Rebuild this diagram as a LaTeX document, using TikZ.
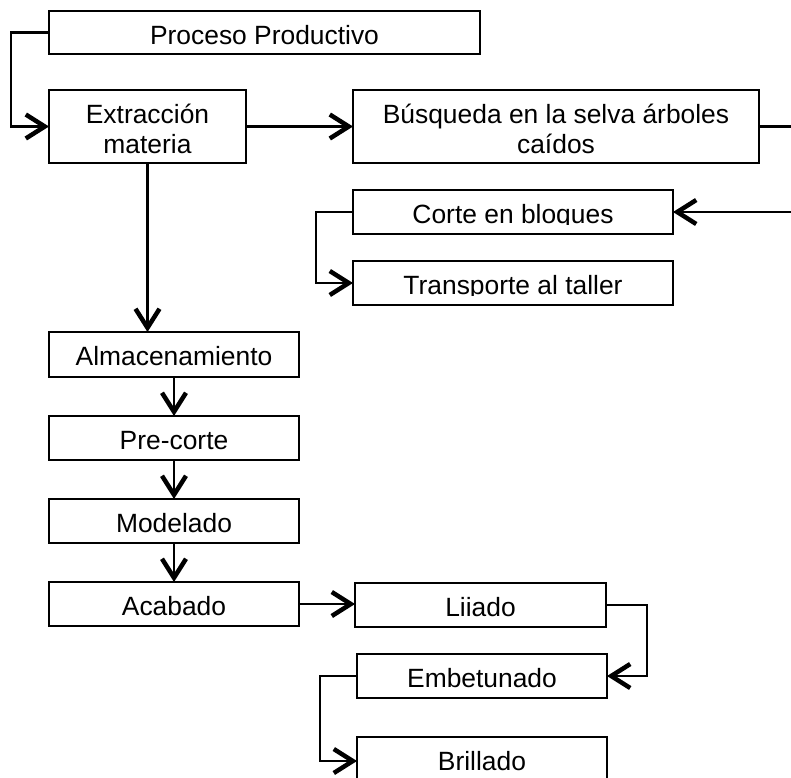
\documentclass[tikz,border=0pt]{standalone}
\usepackage{fontspec}
\setmainfont{Liberation Sans}
\usetikzlibrary{arrows.meta}
\newcommand\lblfont{\fontsize{26.4}{30.4}\selectfont}
\tikzset{
  box/.style n args={3}{draw=black, line width=2.2pt, rectangle, inner sep=0pt, outer sep=0pt,
    anchor=north west, minimum width=#1, minimum height=#2,
    path picture={
      \clip ([yshift=2pt]path picture bounding box.north west) rectangle ([yshift=10pt]path picture bounding box.south east);
      \node[anchor=base, inner sep=0pt, font=\lblfont] at ([yshift=-33.5pt]path picture bounding box.north)
        {\begin{tabular}[t]{@{}c@{}}#3\end{tabular}};
    }},
  conn/.style={draw=black, line width=2.4pt},
  arr/.style={conn, -{Straight Barb[length=19pt,width=24pt,line width=4.5pt]}},
}
\begin{document}
\begin{tikzpicture}[x=1pt,y=-1pt]
\useasboundingbox (0,0) rectangle (791,777);
\fill[white] (0,0) rectangle (791,777);
\begin{scope}
\clip (0,0) rectangle (791,777);
% boxes
\node[box={431pt}{43pt}{Proceso Productivo}] (proc) at (49,11) {};
\node[box={197pt}{73pt}{Extracción\\materia}] (ext) at (49,90) {};
\node[box={406pt}{73pt}{Búsqueda en la selva árboles\\caídos}] (bus) at (353,90) {};
\node[box={320pt}{44pt}{Corte en bloques}] (corte) at (353,190) {};
\node[box={320pt}{44pt}{Transporte al taller}] (trans) at (353,261) {};
\node[box={250pt}{45pt}{Almacenamiento}] (alm) at (49,332) {};
\node[box={250pt}{44pt}{Pre-corte}] (pre) at (49,416) {};
\node[box={250pt}{44pt}{Modelado}] (mod) at (49,499) {};
\node[box={250pt}{44pt}{Acabado}] (acab) at (49,582) {};
\node[box={251pt}{44pt}{Liiado}] (liia) at (355,583) {};
\node[box={250pt}{44pt}{Embetunado}] (emb) at (357,654) {};
\node[box={250pt}{48pt}{Brillado}] (bri) at (357,737) {};
\coordinate (rc) at (794,0);
% connectors
\draw[arr] (proc.west) -- ++(-38,0) |- (ext.west);
\draw[arr] (ext.east) -- (bus.west);
\draw[arr] (bus.east) -- (bus.east -| rc) |- (corte.east);
\draw[arr] (corte.west) -- ++(-37,0) |- (trans.west);
\draw[arr] (ext.south) -- (ext.south |- alm.north);
\draw[arr] (alm.south) -- (pre.north);
\draw[arr] (pre.south) -- (mod.north);
\draw[arr] (mod.south) -- (acab.north);
\draw[arr] (acab.east) -- (acab.east -| liia.west);
\draw[arr] (liia.east) -- ++(41,0) |- (emb.east);
\draw[arr] (emb.west) -- ++(-37,0) |- (bri.west);
\end{scope}
\end{tikzpicture}
\end{document}
